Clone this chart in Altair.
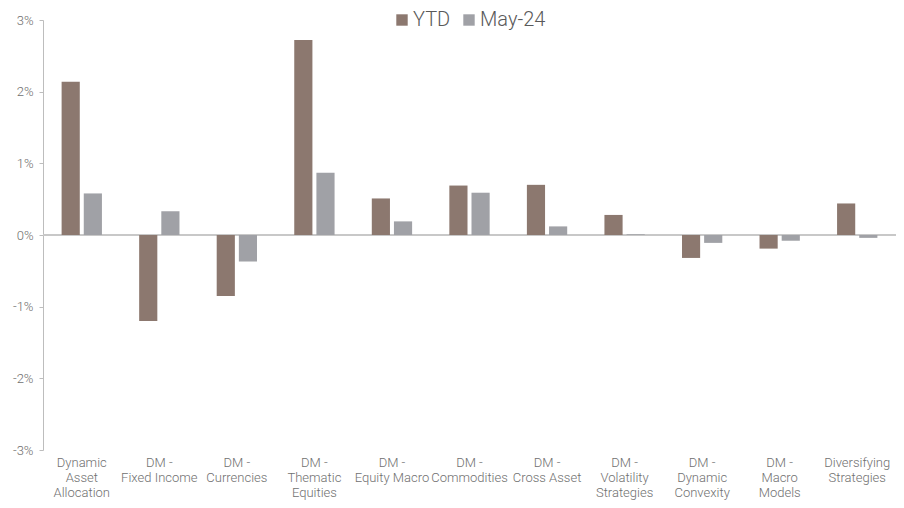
import altair as alt
import pandas as pd

categories = [
    "Dynamic\nAsset\nAllocation",
    "DM -\nFixed Income",
    "DM -\nCurrencies",
    "DM -\nThematic\nEquities",
    "DM -\nEquity Macro",
    "DM -\nCommodities",
    "DM -\nCross Asset",
    "DM -\nVolatility\nStrategies",
    "DM -\nDynamic\nConvexity",
    "DM -\nMacro\nModels",
    "Diversifying\nStrategies",
]
series = ["YTD", "May-24"]
ytd = [2.14, -1.20, -0.85, 2.72, 0.51, 0.69, 0.70, 0.28, -0.32, -0.19, 0.44]
may24 = [0.58, 0.33, -0.37, 0.87, 0.19, 0.59, 0.12, 0.01, -0.11, -0.08, -0.04]
y_ticks = [-3, -2, -1, 0, 1, 2, 3]
colors = ["#8C786F", "#A0A1A6"]

rows = []
for c, a, b in zip(categories, ytd, may24):
    rows.append({"cat": c, "series": "YTD", "value": a})
    rows.append({"cat": c, "series": "May-24", "value": b})
df = pd.DataFrame(rows)

axis_font = "Roboto"

base = alt.Chart(df)

bars = base.mark_bar().encode(
    x=alt.X(
        "cat:N",
        sort=categories,
        title=None,
        scale=alt.Scale(paddingInner=0.48, paddingOuter=0.24),
        axis=alt.Axis(
            labelExpr="split(datum.label, '\\n')",
            labelAngle=0,
            domain=False,
            ticks=False,
            labelFont=axis_font,
            labelFontWeight=300,
            labelFontSize=13,
            labelColor="#707070",
            labelLineHeight=15,
            labelPadding=6,
            labelBaseline="top",
        ),
    ),
    xOffset=alt.XOffset("series:N", sort=series, scale=alt.Scale(paddingInner=0.18)),
    y=alt.Y(
        "value:Q",
        title=None,
        scale=alt.Scale(domain=[-3, 3], nice=False),
        axis=alt.Axis(
            values=y_ticks,
            labelExpr="datum.value + '%'",
            grid=False,
            domainColor="#BDBDBD",
            tickColor="#BDBDBD",
            tickSize=4,
            labelPadding=6,
            labelFont=axis_font,
            labelFontWeight=300,
            labelFontSize=13,
            labelColor="#707070",
        ),
    ),
    color=alt.Color(
        "series:N",
        sort=series,
        scale=alt.Scale(domain=series, range=colors),
        legend=alt.Legend(
            title=None,
            orient="none",
            direction="horizontal",
            legendX=349,
            legendY=-10,
            symbolType="square",
            symbolSize=130,
            symbolStrokeWidth=0,
            labelFont="Roboto",
            labelFontWeight=300,
            labelFontSize=20,
            labelColor="#595959",
            columnPadding=8,
            labelOffset=1,
        ),
    ),
)

zero = base.mark_rule(color="#C8C8C8", strokeWidth=2).encode(y=alt.datum(0))

chart = (
    alt.layer(zero, bars)
    .properties(
        width=853,
        height=430,
        autosize=alt.AutoSizeParams(type="none"),
        padding={"left": 35, "top": 12, "right": 0, "bottom": 50},
    )
    .configure_view(stroke=None)
)

chart.save("out.html", embed_options={"renderer": "svg", "actions": False})
